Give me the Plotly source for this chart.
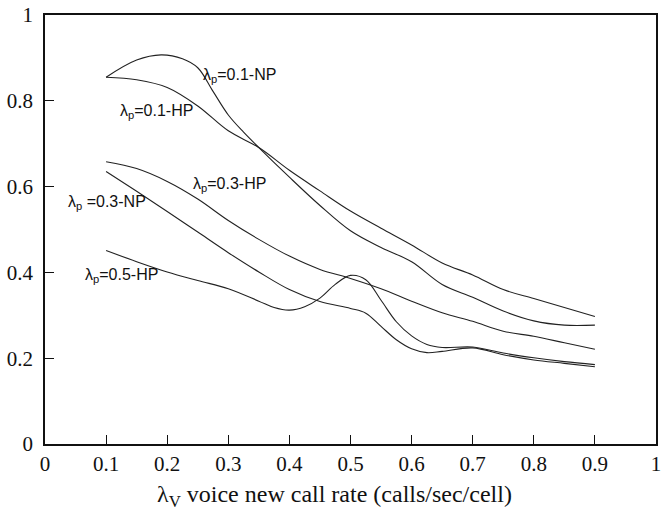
import plotly.graph_objects as go

# ---- data ----
np01_x = [0.10, 0.15, 0.19, 0.225, 0.25, 0.275, 0.30, 0.325, 0.35, 0.40, 0.45, 0.50, 0.55, 0.60, 0.65, 0.70, 0.75, 0.80, 0.85, 0.90]
np01_y = [0.855, 0.895, 0.907, 0.898, 0.877, 0.822, 0.767, 0.727, 0.691, 0.622, 0.556, 0.497, 0.458, 0.425, 0.372, 0.342, 0.310, 0.287, 0.277, 0.277]

hp01_x = [0.10, 0.15, 0.20, 0.25, 0.30, 0.35, 0.40, 0.45, 0.50, 0.55, 0.60, 0.65, 0.70, 0.75, 0.80, 0.85, 0.90]
hp01_y = [0.855, 0.849, 0.831, 0.788, 0.730, 0.691, 0.638, 0.590, 0.543, 0.503, 0.464, 0.422, 0.394, 0.360, 0.339, 0.318, 0.297]

hp03_x = [0.10, 0.15, 0.20, 0.25, 0.30, 0.35, 0.40, 0.45, 0.50, 0.55, 0.60, 0.65, 0.70, 0.75, 0.80, 0.85, 0.90]
hp03_y = [0.658, 0.642, 0.612, 0.571, 0.521, 0.477, 0.438, 0.407, 0.386, 0.362, 0.333, 0.306, 0.286, 0.263, 0.251, 0.236, 0.221]

np03_x = [0.10, 0.15, 0.20, 0.25, 0.30, 0.35, 0.40, 0.45, 0.50, 0.525, 0.55, 0.575, 0.60, 0.625, 0.65, 0.70, 0.75, 0.80, 0.85, 0.90]
np03_y = [0.635, 0.589, 0.542, 0.494, 0.446, 0.401, 0.360, 0.332, 0.316, 0.305, 0.274, 0.243, 0.222, 0.213, 0.216, 0.224, 0.208, 0.196, 0.188, 0.180]

hp05_x = [0.10, 0.15, 0.20, 0.25, 0.30, 0.35, 0.375, 0.40, 0.425, 0.45, 0.475, 0.50, 0.525, 0.55, 0.575, 0.60, 0.625, 0.65, 0.70, 0.75, 0.80, 0.85, 0.90]
hp05_y = [0.451, 0.425, 0.401, 0.381, 0.362, 0.333, 0.318, 0.312, 0.320, 0.340, 0.372, 0.393, 0.383, 0.335, 0.285, 0.252, 0.232, 0.225, 0.226, 0.212, 0.201, 0.192, 0.185]

curve_labels = ["λ<sub>p</sub>=0.1-NP", "λ<sub>p</sub>=0.1-HP", "λ<sub>p</sub>=0.3-HP",
                "λ<sub>p</sub> =0.3-NP", "λ<sub>p</sub>=0.5-HP"]
label_x = [0.256, 0.119, 0.239, 0.035, 0.062]
label_y = [0.860, 0.774, 0.606, 0.562, 0.392]

x_ticks = [0, 0.1, 0.2, 0.3, 0.4, 0.5, 0.6, 0.7, 0.8, 0.9, 1]
x_tick_text = ["0", "0.1", "0.2", "0.3", "0.4", "0.5", "0.6", "0.7", "0.8", "0.9", "1"]
y_ticks = [0, 0.2, 0.4, 0.6, 0.8, 1]
y_tick_text = ["0", "0.2", "0.4", "0.6", "0.8", "1"]
x_title = "λ<sub>V</sub> voice new call rate (calls/sec/cell)"

SERIF = "Liberation Serif"
SANS = "Liberation Sans"

fig = go.Figure()
for xs, ys in [(np01_x, np01_y), (hp01_x, hp01_y), (hp03_x, hp03_y), (np03_x, np03_y), (hp05_x, hp05_y)]:
    fig.add_trace(go.Scatter(x=xs, y=ys, mode="lines",
                             line=dict(color="#222", width=1.1, shape="spline", smoothing=1.0),
                             showlegend=False, hoverinfo="skip"))

for t, lx, ly in zip(curve_labels, label_x, label_y):
    fig.add_annotation(x=lx, y=ly, xref="x", yref="y", text=t, showarrow=False,
                       xanchor="left", yanchor="middle",
                       font=dict(family=SANS, size=16, color="#111"))

fig.add_annotation(x=0.473, y=-0.122, xref="paper", yref="paper", text=x_title, showarrow=False,
                   xanchor="center", yanchor="middle",
                   font=dict(family=SERIF, size=24, color="#111"))

axis_common = dict(range=[0, 1], showgrid=False, zeroline=False, showline=True, mirror=True,
                   linecolor="#111", linewidth=1.5, ticks="inside", ticklen=9, tickwidth=1.2,
                   tickcolor="#111",
                   tickfont=dict(family=SERIF, size=21, color="#111"))

fig.update_xaxes(tickvals=x_ticks, ticktext=x_tick_text, ticklabeloverflow="allow", **axis_common)
fig.update_yaxes(tickvals=y_ticks, ticktext=y_tick_text, ticklabelstandoff=6,
                 ticklabeloverflow="allow", **axis_common)

fig.update_layout(width=664, height=510, margin=dict(l=45, r=3, t=14, b=66),
                  plot_bgcolor="white", paper_bgcolor="white")

fig.write_html("out.html")
